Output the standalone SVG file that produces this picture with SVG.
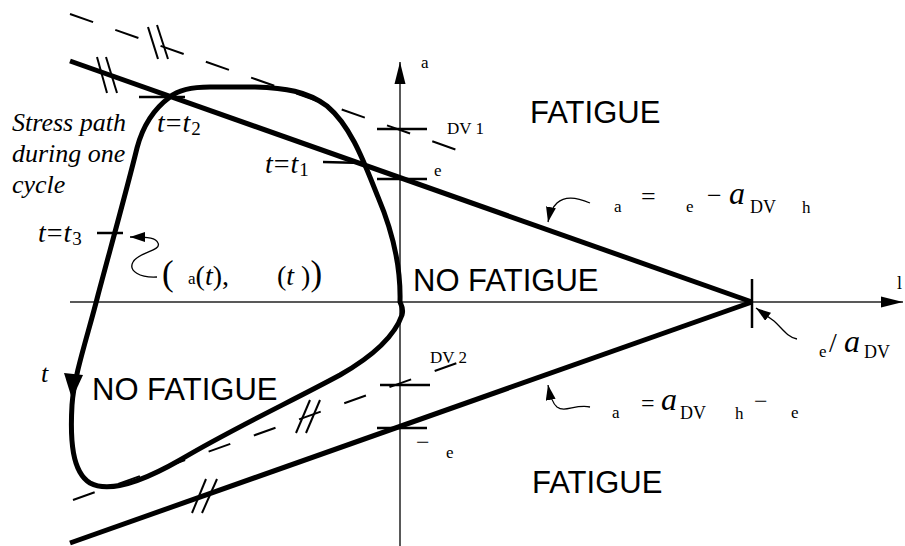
<svg xmlns="http://www.w3.org/2000/svg" width="905" height="546" viewBox="0 0 905 546">
<style>
.ax{stroke:#222;stroke-width:1.5;fill:none}
.thick{stroke:#000;stroke-width:5;fill:none;stroke-linecap:butt}
.dash{stroke:#000;stroke-width:2;fill:none}
.tick{stroke:#000;stroke-width:2.5;fill:none}
.hash{stroke:#000;stroke-width:2;fill:none}
.wave{stroke:#000;stroke-width:1.3;fill:none}
.serif{font-family:"Liberation Serif","Times New Roman",serif;fill:#000}
.it{font-style:italic}
.sans{font-family:"Liberation Sans",Arial,sans-serif;font-size:31px;fill:#000}
</style>
<defs>
<marker id="ah" markerUnits="userSpaceOnUse" markerWidth="16" markerHeight="10" refX="15" refY="5" orient="auto">
<path d="M0,0 L15,5 L0,10 z" fill="#000"/>
</marker>
<marker id="axh" markerUnits="userSpaceOnUse" markerWidth="24" markerHeight="12" refX="22" refY="6" orient="auto">
<path d="M0,0.5 L22,6 L0,11.5 z" fill="#000"/>
</marker>
</defs>

<g id="axes">
<line class="ax" x1="70" y1="302" x2="903" y2="302" marker-end="url(#axh)"/>
<line class="ax" x1="400" y1="546" x2="400" y2="62" marker-end="url(#axh)"/>
<text class="serif" x="421" y="68" font-size="17">a</text>
<text class="serif" x="897" y="289" font-size="18">l</text>
</g>

<g id="limit-lines">
<line class="thick" x1="70" y1="61" x2="752" y2="302"/>
<line class="thick" x1="70" y1="543" x2="752" y2="302"/>
<line class="dash" x1="70" y1="14" x2="457" y2="150" stroke-dasharray="24.5 23.5"/>
<line class="dash" x1="73" y1="500" x2="457" y2="363" stroke-dasharray="23 25"/>
<line class="tick" x1="752" y1="279" x2="752" y2="328"/>
</g>

<g id="hashes">
<line class="hash" x1="97" y1="57" x2="107" y2="93"/>
<line class="hash" x1="106" y1="57" x2="117" y2="93"/>
<line class="hash" x1="148" y1="27" x2="158" y2="59"/>
<line class="hash" x1="157" y1="25" x2="168" y2="59"/>
<line class="hash" x1="296" y1="433" x2="310" y2="400"/>
<line class="hash" x1="306" y1="433" x2="320" y2="400"/>
<line class="hash" x1="192" y1="513" x2="206" y2="479"/>
<line class="hash" x1="202" y1="513" x2="217" y2="479"/>
</g>

<g id="axis-ticks">
<line class="tick" x1="377" y1="129" x2="427" y2="129"/>
<line class="tick" x1="377" y1="179" x2="427" y2="179"/>
<line class="tick" x1="380" y1="385" x2="430" y2="385"/>
<line class="tick" x1="377" y1="428" x2="427" y2="428"/>
<text class="serif" x="447" y="134" font-size="17">DV 1</text>
<text class="serif" x="434" y="176" font-size="17">e</text>
<text class="serif" x="430" y="363" font-size="17">DV 2</text>
<text class="serif" x="416" y="450" font-size="24">−</text>
<text class="serif" x="446" y="458" font-size="17">e</text>
</g>

<g id="stress-path">
<path class="thick" d="M400,302 C401,265 392,230 378,197 C365,165 352,127 327,106 C307,91 285,88 255,87 L210,87 C190,87 178,90 170,97 C155,108 143,125 137,148 C128,185 110,250 98,295 C88,335 74,375 72,405 C70,440 72,472 90,483 C110,494 145,480 180,460 C230,430 290,402 340,375 C375,355 395,335 402,315 C404,308 401,305 400,302 Z"/>
<polygon points="64,373 83,375 72,399" fill="#000"/>
<line class="tick" x1="139" y1="97" x2="185" y2="97"/>
<line class="tick" x1="323" y1="162" x2="363" y2="163"/>
<line class="tick" x1="97" y1="233" x2="123" y2="233"/>
</g>

<g id="path-labels">
<text class="serif it" font-size="26"><tspan x="12" y="131">Stress path</tspan><tspan x="12" y="162">during one</tspan><tspan x="12" y="193">cycle</tspan></text>
<text class="serif" x="157" y="132" font-size="28" letter-spacing="1"><tspan class="it">t</tspan>=<tspan class="it">t</tspan><tspan font-size="19" dy="3">2</tspan></text>
<text class="serif" x="265" y="173" font-size="28" letter-spacing="1"><tspan class="it">t</tspan>=<tspan class="it">t</tspan><tspan font-size="19" dy="3">1</tspan></text>
<text class="serif" x="38" y="242" font-size="28" letter-spacing="1"><tspan class="it">t</tspan>=<tspan class="it">t</tspan><tspan font-size="19" dy="3">3</tspan></text>
<text class="serif it" x="41" y="382" font-size="26">t</text>
<path class="wave" d="M157,277 C140,278 128,271 133,262 C138,252 162,251 158,243 C156,238 150,237 130,237" marker-end="url(#ah)"/>
<text class="serif" y="285"><tspan x="162" font-size="35">(</tspan><tspan x="188" font-size="17" dy="-1">a</tspan><tspan font-size="28" dy="1">(<tspan class="it">t</tspan>),</tspan><tspan x="277" font-size="28">(<tspan class="it">t </tspan>)</tspan><tspan font-size="35">)</tspan></text>
</g>

<g id="region-labels">
<text class="sans" x="530" y="123">FATIGUE</text>
<text class="sans" x="413" y="291">NO FATIGUE</text>
<text class="sans" x="92" y="400">NO FATIGUE</text>
<text class="sans" x="532" y="493">FATIGUE</text>
</g>

<g id="formulas">
<path class="wave" d="M590,203 C575,197 565,196 557,203 C552,208 550,212 548,222" marker-end="url(#ah)"/>
<text class="serif" x="614" y="212" font-size="17">a</text>
<text class="serif" x="641" y="205" font-size="26">=</text>
<text class="serif" x="686" y="212" font-size="17">e</text>
<text class="serif" x="707" y="204" font-size="26">−</text>
<text class="serif it" x="729" y="204" font-size="32">a</text>
<text class="serif" x="750" y="213" font-size="18">DV</text>
<text class="serif" x="802" y="213" font-size="17">h</text>

<path class="wave" d="M590,407 C575,404 565,413 557,407 C552,403 550,396 548,385" marker-end="url(#ah)"/>
<text class="serif" x="612" y="418" font-size="17">a</text>
<text class="serif" x="641" y="411" font-size="24">=</text>
<text class="serif it" x="661" y="410" font-size="32">a</text>
<text class="serif" x="680" y="419" font-size="18">DV</text>
<text class="serif" x="735" y="419" font-size="17">h</text>
<text class="serif" x="754" y="409" font-size="24">−</text>
<text class="serif" x="791" y="418" font-size="17">e</text>

<path class="wave" d="M797,339 C787,337 782,328 774,321 L756,308" marker-end="url(#ah)"/>
<text class="serif" x="819" y="357" font-size="17">e</text>
<text class="serif" x="829" y="352" font-size="28">/</text>
<text class="serif it" x="844" y="352" font-size="32">a</text>
<text class="serif" x="864" y="358" font-size="18">DV</text>
</g>
</svg>
